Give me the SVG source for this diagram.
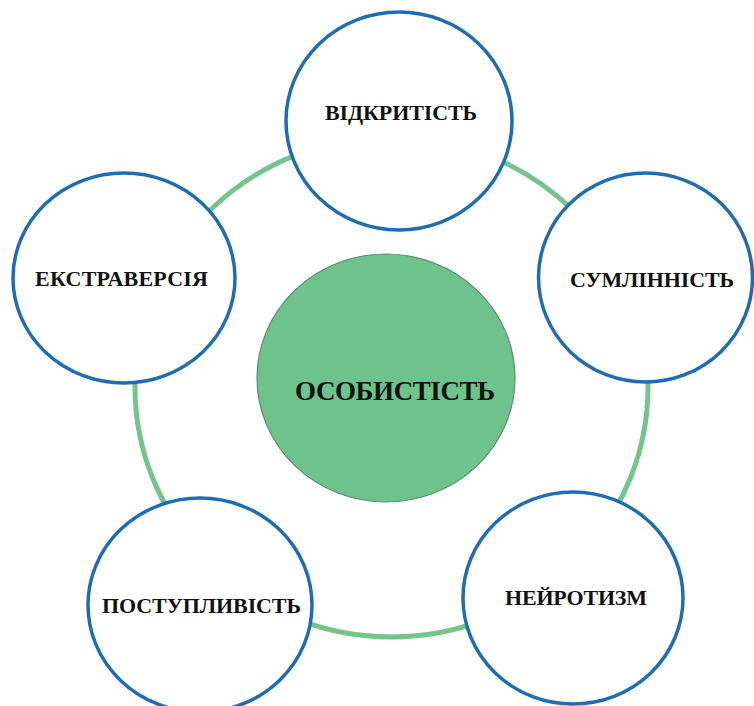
<svg xmlns="http://www.w3.org/2000/svg" width="754" height="706" viewBox="0 0 754 706">
<style>
.node{fill:#ffffff;stroke:#1e6db4;stroke-width:3.5}
.core{fill:#6dc38b;stroke:#5a8a74;stroke-width:1.2}
.ring{fill:none;stroke:#74c58c;stroke-width:5}
.lbl{font-family:"Liberation Serif","Times New Roman",serif;font-weight:bold;font-size:22px;fill:#111111;text-anchor:middle}
.big{font-size:27px}
</style>
<rect width="754" height="706" fill="#ffffff"/>
<g id="connectors">
<ellipse class="ring" cx="391.5" cy="387" rx="256.5" ry="250"/>
</g>
<g id="center">
<ellipse class="core" cx="386" cy="378" rx="129" ry="124"/>
<text class="lbl big" x="395" y="400" textLength="200">ОСОБИСТІСТЬ</text>
</g>
<g id="openness">
<ellipse class="node" cx="399" cy="121" rx="113" ry="109"/>
<text class="lbl" x="401" y="120" textLength="152">ВІДКРИТІСТЬ</text>
</g>
<g id="conscientiousness">
<ellipse class="node" cx="645.5" cy="277.5" rx="107" ry="104.5"/>
<text class="lbl" x="652" y="287" textLength="164">СУМЛІННІСТЬ</text>
</g>
<g id="neuroticism">
<ellipse class="node" cx="573" cy="598" rx="110" ry="106"/>
<text class="lbl" x="576" y="605" textLength="142">НЕЙРОТИЗМ</text>
</g>
<g id="agreeableness">
<ellipse class="node" cx="200" cy="605" rx="112" ry="107"/>
<text class="lbl" x="201.5" y="613" textLength="199">ПОСТУПЛИВІСТЬ</text>
</g>
<g id="extraversion">
<ellipse class="node" cx="124" cy="278" rx="111" ry="105"/>
<text class="lbl" x="121.5" y="286" textLength="173">ЕКСТРАВЕРСІЯ</text>
</g>
</svg>
